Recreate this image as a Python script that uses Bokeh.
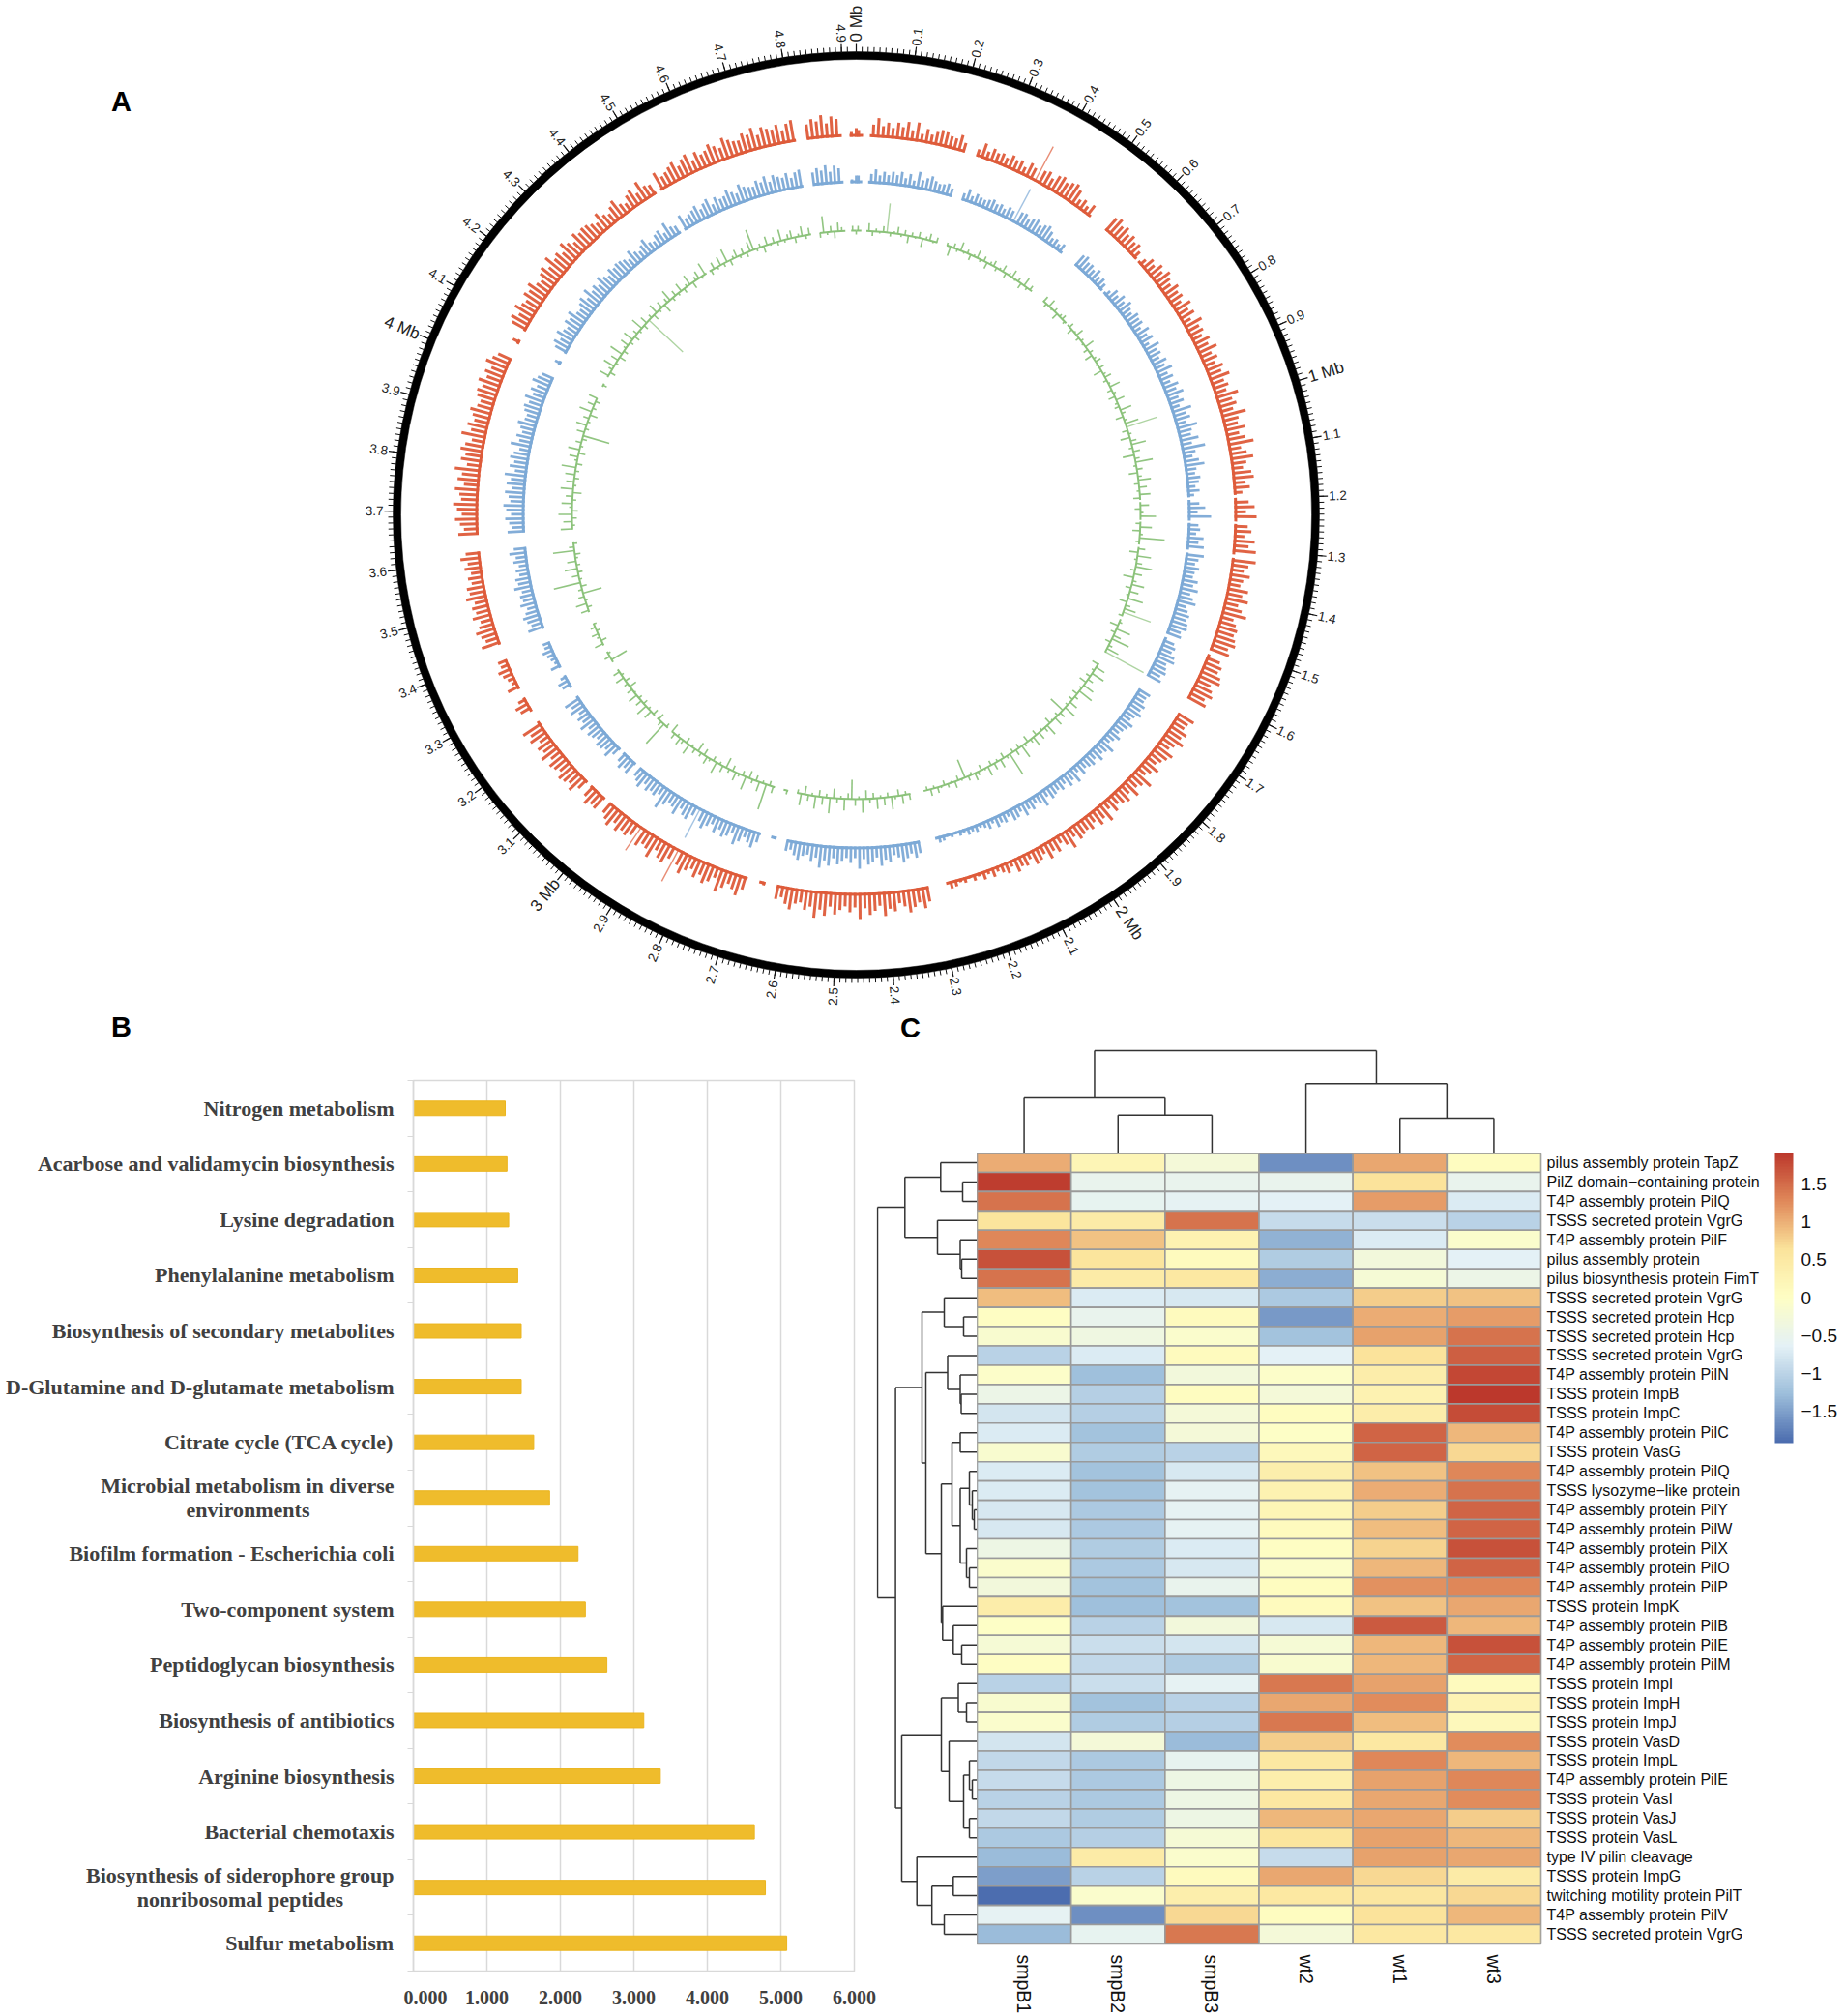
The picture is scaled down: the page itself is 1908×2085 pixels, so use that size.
import numpy as np
from bokeh.plotting import figure
from bokeh.layouts import row, column
from bokeh.models import (Range1d, FixedTicker, LinearColorMapper, ColorBar, ColumnDataSource,
                          NumeralTickFormatter)
from bokeh.core.properties import value
from bokeh.embed import file_html
from bokeh.resources import INLINE

# ---------- Panel A data ----------
GENOME_MB = 4.925
BIN_MB = 0.01
gaps_mb = [(4.895,4.911),(0.014,0.028),(0.227,0.254),(0.522,0.562),(0.651,0.657),(1.19,1.196),(1.245,1.25),
           (1.313,1.32),(1.517,1.526),(1.627,1.662),(2.275,2.312),(2.627,2.652),(2.665,2.69),(3.016,3.03),
           (3.07,3.08),(3.243,3.267),(3.30,3.32),(3.387,3.42),(3.618,3.653),(4.026,4.06),(4.07,4.09),
           (4.49,4.50),(4.80,4.824)]
tick_labels = {0:"0 Mb",10:"1 Mb",20:"2 Mb",30:"3 Mb",40:"4 Mb"}
red_track = [
 7,5,5,13,20,12,16,11,17,13,
 19,11,20,9,15,10,14,17,16,13,
 12,17,10,5,5,8,16,9,14,11,
 13,10,15,12,14,9,16,13,41,15,
 17,12,18,20,16,19,21,17,9,12,
 8,13,5,5,5,5,17,20,15,18,
 13,16,12,14,9,6,8,14,11,17,
 13,19,15,12,18,14,16,11,19,13,
 17,10,20,14,16,12,18,14,21,13,
 17,12,19,15,22,14,17,13,24,16,
 19,14,26,17,15,21,14,19,27,13,
 18,24,16,12,20,22,13,17,9,25,
 15,21,12,23,9,14,18,11,22,16,
 24,5,25,18,14,21,15,13,22,17,
 24,15,20,26,14,18,21,19,22,24,
 18,21,9,15,19,17,22,24,16,20,
 23,17,21,9,9,9,19,15,14,20,
 17,23,16,13,21,18,15,12,19,14,
 11,23,16,13,20,12,18,15,12,17,
 10,21,14,18,11,16,13,15,17,11,
 21,14,9,16,12,18,10,14,16,8,
 13,11,15,7,12,9,6,10,5,9,
 4,7,3,6,4,7,8,5,5,5,
 5,16,22,15,19,24,17,13,21,18,
 25,14,19,23,16,27,15,20,14,18,
 23,15,25,19,28,17,21,14,16,23,
 18,12,15,5,5,4,3,5,5,14,
 22,17,13,19,25,12,18,22,15,20,
 13,17,23,16,38,14,21,19,13,24,
 17,15,20,30,14,18,16,20,14,21,
 17,13,9,16,15,19,13,9,12,20,
 15,18,20,14,17,19,13,21,15,18,
 12,20,16,22,14,5,5,12,15,9,
 5,5,13,6,8,11,14,9,10,5,
 5,5,20,14,17,21,16,13,20,15,
 18,14,22,17,19,13,16,12,18,14,
 21,15,5,5,5,21,15,19,24,17,
 22,26,18,20,25,16,23,19,27,15,
 22,18,24,20,14,26,17,22,16,19,
 23,17,15,20,22,18,24,17,21,16,
 24,19,15,5,5,5,8,5,5,17,
 21,15,23,18,16,22,19,24,17,15,
 20,23,17,26,18,21,16,24,19,15,
 22,18,20,19,16,13,21,15,12,17,
 21,13,10,16,19,12,22,14,12,5,
 20,13,15,18,21,14,19,22,13,20,
 15,17,22,18,14,23,19,16,15,21,
 18,24,15,22,19,17,21,14,20,23,
 5,5,16,21,18,24,15,22,19,8,
 7,5,9]
blue_track = [
 8,6,5,10,15,9,13,10,14,11,
 15,9,14,8,18,10,13,16,12,10,
 11,13,9,5,5,8,14,8,12,10,
 9,11,13,10,12,9,13,11,39,14,
 15,11,14,16,12,15,17,13,8,10,
 7,10,5,5,5,5,14,16,12,13,
 10,14,9,11,8,5,7,13,10,15,
 11,16,12,10,15,13,14,9,16,11,
 15,8,17,12,14,10,16,12,18,11,
 15,10,17,13,19,12,16,10,21,14,
 17,11,22,15,13,20,12,25,14,10,
 16,21,12,10,15,13,9,13,7,20,
 12,18,10,24,8,11,13,9,17,12,
 18,5,19,14,11,16,12,11,17,13,
 19,12,16,20,11,14,17,15,18,19,
 14,16,8,12,15,13,18,20,13,15,
 17,13,16,8,8,8,14,12,12,16,
 14,18,13,11,17,14,12,10,15,11,
 9,18,13,11,16,10,14,12,10,14,
 8,17,11,15,9,13,10,12,14,9,
 17,11,8,13,10,15,8,12,13,7,
 11,9,12,6,10,7,5,8,6,8,
 4,6,3,5,3,6,7,4,4,4,
 4,13,17,12,16,20,14,11,18,15,
 21,12,16,19,13,23,12,17,12,15,
 19,13,21,16,24,14,18,12,14,19,
 15,10,12,4,4,3,2,4,4,11,
 18,14,10,16,21,10,15,18,12,17,
 10,14,19,13,35,11,18,16,11,20,
 14,12,17,24,11,15,13,16,11,18,
 14,11,8,15,12,16,11,8,10,17,
 12,15,16,11,14,16,11,18,12,15,
 10,17,13,18,12,4,4,10,12,7,
 4,4,11,5,7,9,12,8,8,4,
 4,4,17,12,15,18,14,11,17,13,
 15,12,19,14,16,11,14,10,15,12,
 18,13,4,4,4,18,13,16,20,14,
 19,22,15,17,21,14,20,16,23,13,
 19,15,20,17,12,22,14,18,13,16,
 20,14,13,17,19,15,21,14,18,13,
 20,16,13,4,4,4,7,4,4,14,
 18,13,20,15,13,19,16,21,14,13,
 17,20,14,22,15,18,14,20,16,13,
 18,15,17,16,14,11,18,13,10,14,
 18,11,9,14,16,10,19,12,10,4,
 17,11,13,15,18,12,16,19,11,17,
 13,14,19,15,12,20,16,14,13,18,
 15,20,13,19,16,14,18,12,17,19,
 4,4,14,18,15,20,13,19,16,6,
 6,4,8]
green_track = [
 5,-3,3,8,-5,3,-2,6,30,-4,
 2,7,-3,5,-8,4,-2,6,-9,3,
 7,-2,5,3,3,3,-10,5,-3,9,
 -2,4,-6,2,8,-3,5,-7,3,6,
 -4,2,7,-5,3,8,-2,4,-6,9,
 -3,5,2,2,2,2,6,-4,8,-2,
 4,-7,3,5,-3,2,5,-6,2,8,
 -4,3,-2,10,-5,4,-8,3,6,-2,
 5,-9,3,7,-4,2,11,-5,3,-7,
 9,-3,-5,12,4,-8,3,14,33,-6,
 3,-10,6,15,-4,7,-12,5,18,-3,
 6,-9,4,13,-5,8,-3,11,-7,4,
 9,-6,3,16,4,-5,12,-8,3,26,
 -4,4,7,-9,14,-3,6,17,-5,8,
 -11,4,13,-6,9,-3,16,-8,5,12,
 30,-4,7,3,-9,15,-5,8,19,-6,
 4,13,45,3,3,3,-7,10,-3,14,
 -5,6,-8,12,-3,16,-6,4,-5,9,
 -3,13,-17,6,-4,9,-2,-7,12,5,
 -3,8,-6,11,4,-7,3,14,-5,6,
 -4,25,3,-6,9,-3,7,-5,10,2,
 -6,4,8,-3,5,-20,2,-5,7,-2,
 4,-5,2,6,-3,7,-4,5,3,3,
 3,6,-4,9,-7,3,13,-5,8,-3,
 11,-6,4,-9,14,-3,7,-20,-6,12,
 -3,5,-10,16,-4,8,-7,13,-3,6,
 -9,12,-4,3,3,4,3,3,3,7,
 -5,27,-3,10,-6,4,-8,14,-5,3,
 9,-6,4,-11,7,-3,12,-5,3,8,
 -7,4,-10,5,-3,11,-6,4,8,-3,
 6,-9,3,-4,27,5,-7,3,-6,9,
 -3,12,-5,7,-4,10,-2,6,-8,4,
 -5,9,-3,7,-4,3,3,-18,6,-3,
 3,3,9,-6,3,7,-4,5,-3,3,
 3,3,8,-5,11,-3,6,-20,4,-6,
 28,-3,7,-5,13,-4,9,-3,-6,22,
 5,-4,3,3,3,12,-3,9,-5,14,
 -6,3,11,-4,7,-9,13,-3,8,-5,
 10,-4,15,-6,3,9,-7,12,-3,6,
 -5,-28,8,-4,11,-3,6,-8,13,-4,
 7,-5,9,3,3,3,-4,3,3,10,
 -6,4,12,-3,8,-7,14,-5,3,9,
 -4,11,-6,5,-3,13,-5,8,-48,4,
 -6,10,-3,7,-9,5,12,-4,6,-3,
 9,-5,3,11,-7,4,8,-3,13,3,
 -5,7,-3,9,-4,14,-6,3,8,-3,
 6,-5,10,22,-3,4,-7,9,-2,6,
 -4,12,-3,5,8,-6,3,10,-4,7,
 3,3,-5,17,-3,6,-7,9,4,-3,
 3,5,-4]

# ---------- Panel B data ----------
pathways = ["Nitrogen metabolism","Acarbose and validamycin biosynthesis","Lysine degradation","Phenylalanine metabolism",
            "Biosynthesis of secondary metabolites","D-Glutamine and D-glutamate metabolism","Citrate cycle (TCA cycle)",
            "Microbial metabolism in diverse|environments","Biofilm formation - Escherichia coli","Two-component system",
            "Peptidoglycan biosynthesis","Biosynthesis of antibiotics","Arginine biosynthesis","Bacterial chemotaxis",
            "Biosynthesis of siderophore group|nonribosomal peptides","Sulfur metabolism"]
enrichment = [1.25,1.274,1.297,1.42,1.467,1.467,1.637,1.853,2.24,2.34,2.633,3.135,3.36,4.64,4.79,5.08]

# ---------- Panel C data ----------
samples = ["smpB1","smpB2","smpB3","wt2","wt1","wt3"]
genes = ["pilus assembly protein TapZ","PilZ domain\u2212containing protein","T4P assembly protein PilQ","TSSS secreted protein VgrG",
 "T4P assembly protein PilF","pilus assembly protein","pilus biosynthesis protein FimT","TSSS secreted protein VgrG",
 "TSSS secreted protein Hcp","TSSS secreted protein Hcp","TSSS secreted protein VgrG","T4P assembly protein PilN",
 "TSSS protein ImpB","TSSS protein ImpC","T4P assembly protein PilC","TSSS protein VasG","T4P assembly protein PilQ",
 "TSSS lysozyme\u2212like protein","T4P  assembly protein PilY","T4P assembly protein PilW","T4P assembly protein PilX",
 "T4P assembly protein PilO","T4P assembly protein PilP","TSSS protein ImpK","T4P assembly protein PilB","T4P assembly protein PilE",
 "T4P assembly protein PilM","TSSS protein ImpI","TSSS protein ImpH","TSSS protein ImpJ","TSSS protein VasD","TSSS protein ImpL",
 "T4P  assembly protein PilE","TSSS protein VasI","TSSS protein VasJ","TSSS protein VasL","type IV pilin cleavage","TSSS protein ImpG",
 "twitching motility protein PilT","T4P  assembly protein PilV","TSSS secreted protein VgrG"]
expr = [
 [1.0,0.2,-0.25,-1.65,1.05,0.05],[1.85,-0.5,-0.5,-0.5,0.65,-0.5],[1.45,-0.55,-0.6,-0.65,1.15,-0.7],[0.6,0.45,1.45,-0.9,-0.85,-1.0],
 [1.3,0.85,0.3,-1.35,-0.7,-0.1],[1.7,0.6,0.1,-1.1,-0.3,-0.65],[1.45,0.45,0.5,-1.4,-0.2,-0.45],[0.9,-0.7,-0.75,-1.15,0.8,0.85],
 [0.02,-0.5,0.1,-1.55,1.0,1.15],[-0.15,-0.35,-0.1,-1.2,1.1,1.45],[-1.0,-0.7,0.1,-0.65,0.65,1.6],[-0.05,-1.25,-0.3,-0.05,0.4,1.78],
 [-0.45,-1.05,0.05,-0.25,0.3,1.9],[-0.8,-1.05,-0.25,0.05,0.42,1.75],[-0.7,-1.2,-0.25,-0.02,1.55,0.95],[-0.15,-1.1,-1.0,0.15,1.55,0.7],
 [-0.7,-1.2,-0.75,0.35,0.85,1.3],[-0.7,-1.22,-0.6,0.3,1.0,1.45],[-0.75,-1.15,-0.6,0.2,0.8,1.55],[-0.75,-1.12,-0.6,0.1,0.9,1.55],
 [-0.4,-1.1,-0.7,0.0,0.75,1.7],[-0.1,-1.15,-0.75,-0.05,0.95,1.55],[-0.3,-1.22,-0.5,0.05,1.2,1.3],[0.4,-1.25,-1.22,0.1,0.85,1.05],
 [-0.02,-1.0,-0.3,-0.75,1.62,0.95],[-0.2,-0.85,-0.8,-0.2,0.95,1.72],[0.03,-0.95,-1.1,-0.15,0.95,1.55],[-1.0,-0.85,-0.6,1.4,1.1,0.1],
 [-0.15,-1.22,-1.0,1.05,1.25,0.25],[-0.1,-1.1,-1.05,1.4,0.9,0.15],[-0.8,-0.25,-1.3,0.8,0.5,1.25],[-0.95,-1.12,-0.55,0.5,1.3,0.95],
 [-0.9,-1.15,-0.4,0.35,1.1,1.3],[-1.0,-1.12,-0.4,0.5,1.05,1.25],[-0.95,-1.1,-0.4,0.95,1.05,0.8],[-1.15,-1.05,-0.2,0.6,1.1,0.95],
 [-1.3,0.45,-0.1,-0.9,1.1,1.05],[-1.5,-1.0,0.1,1.05,0.7,0.45],[-1.9,-0.1,0.35,0.5,0.55,0.7],[-0.6,-1.65,0.7,0.05,0.65,0.95],
 [-1.3,-0.55,1.4,-0.25,0.5,0.5]]
col_tree = (106,(57,0,(39.3,1,2)),(71.7,3,(36,4,5)))
_a = (74.7,(37.7,0,(15,1,2)),(41,3,(17.5,4,(16,5,6))))
_g8 = (34,7,(14,8,9))
_g11 = (30.5,10,(17.5,11,(16.5,12,13)))
_g15 = (26,(17.5,14,15),(17.5,(8,16,(5,17,(3,18,19))),(11,20,(8,21,22))))
_g24 = (35.7,23,(24.7,24,(16,25,26)))
_s = (57,_g8,(53,_g11,(37,_g15,_g24)))
_t1 = (37,(19.5,27,(11,28,29)),(29,30,(14,(8,31,(5,32,33)),(8,34,35))))
_t2 = (62.3,36,(46.8,(24.7,37,38),(34,39,40)))
row_tree = (103,_a,(84.4,_s,(78,_t1,_t2)))
cbar_ticks = {-1.5:"\u22121.5",-1:"\u22121",-0.5:"\u22120.5",0:"0",0.5:"0.5",1:"1",1.5:"1.5"}

# ---------- styles ----------
SANS = "Liberation Sans"
SERIF = "Liberation Serif"
RED, BLUE, GREEN = "#DE5B3A", "#7CA9D6", "#8BC27A"

def bare(p):
    p.toolbar.logo = None
    p.background_fill_color = None
    p.border_fill_color = None
    p.outline_line_color = None
    p.xgrid.visible = False
    p.ygrid.visible = False
    return p

# ---------- Panel A ----------
W_A, H_A = 1908, 1044
pa = bare(figure(width=W_A, height=H_A, x_range=Range1d(-885, 1023), y_range=Range1d(-512, 532),
                 output_backend="svg", toolbar_location=None, x_axis_location=None, y_axis_location=None,
                 min_border=0, min_border_left=0, min_border_right=0, min_border_top=0, min_border_bottom=0))

def polar(mb, r):
    th = np.asarray(mb) / GENOME_MB * 2 * np.pi
    return np.asarray(r) * np.sin(th), np.asarray(r) * np.cos(th)

pa.annulus(x=[0], y=[0], inner_radius=471, outer_radius=479, fill_color="black", line_color="black", line_width=0.5)
minor = np.arange(0, int(round(GENOME_MB / BIN_MB))) * BIN_MB
x0, y0 = polar(minor, np.full(minor.size, 478))
x1, y1 = polar(minor, np.full(minor.size, 484))
pa.segment(x0, y0, x1, y1, line_color="#111111", line_width=1)
major_i = np.arange(0, 50)
major = major_i * 0.1
x0, y0 = polar(major, np.full(major.size, 478))
x1, y1 = polar(major, np.full(major.size, 488))
pa.segment(x0, y0, x1, y1, line_color="#111111", line_width=1.2)
th_deg = major / GENOME_MB * 360
lx, ly = polar(major, np.full(major.size, 489))
for big, size in ((False, "13.5px"), (True, "17px")):
    for side, align in ((True, "left"), (False, "right")):
        m = np.array([(i % 10 == 0) == big and (th_deg[i] < 180) == side for i in major_i])
        if not m.any():
            continue
        ang = np.deg2rad((90 - th_deg[m]) if side else (270 - th_deg[m]))
        txt = [tick_labels.get(int(i), f"{major[i]:.1f}") for i in major_i[m]]
        pa.text(lx[m], ly[m], text=txt, angle=ang, text_align=align, text_baseline="middle",
                text_font=value(SANS), text_font_size=size, text_color="#222222")

centers = (np.arange(len(red_track)) + 0.5) * BIN_MB
def visible(mb):
    return np.array([not any(a <= v <= b for a, b in gaps_mb) for v in mb])

contigs = []
pos = 0.0
for a, b in sorted(gaps_mb):
    contigs.append((pos, a))
    pos = b
contigs.append((pos, GENOME_MB))

def track(vals, r0, color, lw, r_in, r_out):
    v = np.asarray(vals, float)
    m = visible(centers)
    xa, ya = polar(centers[m], np.full(m.sum(), r0))
    xb, yb = polar(centers[m], r0 + v[m])
    tall = np.abs(v[m]) > 29
    widths = np.where(tall, 1.4, lw)
    pa.segment(xa, ya, xb, yb, line_color=color, line_width=widths, line_alpha=np.where(tall, 0.7, 0.95))
    st = np.array([np.pi/2 - c[1]/GENOME_MB*2*np.pi for c in contigs])
    en = np.array([np.pi/2 - c[0]/GENOME_MB*2*np.pi for c in contigs])
    pa.annular_wedge(x=np.zeros(len(contigs)), y=np.zeros(len(contigs)), inner_radius=r_in, outer_radius=r_out,
                     start_angle=st, end_angle=en, direction="anticlock", fill_color=color, line_color=None)

track(red_track, 391, RED, 3.0, 391, 394)
track(blue_track, 343, BLUE, 2.7, 343, 346)
track(green_track, 294, GREEN, 1.6, 293, 295)

pa.text([125 - 885], [532 - 104], text=["A"], text_align="center", text_baseline="middle",
        text_font=value(SANS), text_font_style="bold", text_font_size="29px", text_color="black")

# ---------- Panel B ----------
H_B = 1041
PB_TOP, PB_BOTTOM = 73, 47
PB_LEFT, PB_FRAME, PB_RIGHT = 10, 456, 23
n_p = len(pathways)
pb = figure(width=PB_LEFT + PB_FRAME + PB_RIGHT, height=H_B, x_range=Range1d(0, 6), y_range=Range1d(n_p, 0), output_backend="svg",
            toolbar_location=None, min_border_left=PB_LEFT, min_border_right=PB_RIGHT, min_border_top=PB_TOP, min_border_bottom=PB_BOTTOM,
            frame_align=False)
pb.toolbar.logo = None
pb.background_fill_color = None
pb.border_fill_color = None
pb.outline_line_color = "#d9d9d9"
pb.outline_line_width = 1.5
pb.ygrid.visible = False
pb.xgrid.grid_line_color = "#d9d9d9"
pb.xgrid.grid_line_width = 1.5
pb.xgrid.ticker = FixedTicker(ticks=list(range(7)))
pb.xaxis.ticker = FixedTicker(ticks=list(range(7)))
pb.xaxis.formatter = NumeralTickFormatter(format="0.000")
pb.xaxis.axis_line_color = "#d9d9d9"
pb.xaxis.major_tick_line_color = None
pb.xaxis.minor_tick_line_color = None
pb.xaxis.major_label_standoff = 14
pb.xaxis.major_label_text_font = SERIF
pb.xaxis.major_label_text_font_style = "bold"
pb.xaxis.major_label_text_font_size = "20px"
pb.xaxis.major_label_text_color = "#404040"
pb.yaxis.ticker = FixedTicker(ticks=list(range(n_p + 1)))
pb.yaxis.axis_line_color = "#d9d9d9"
pb.yaxis.axis_line_width = 1.5
pb.yaxis.major_tick_line_color = "#d9d9d9"
pb.yaxis.major_tick_out = 6
pb.yaxis.major_tick_in = 0
pb.yaxis.minor_tick_line_color = None
pb.yaxis.major_label_standoff = 0
pb.yaxis.major_label_text_font_size = "0px"
pb.yaxis.major_label_text_color = None

y_c = np.arange(n_p) + 0.5
pb.hbar(y=y_c, left=0, right=enrichment, height=0.26, fill_color="#EFBC2C", line_color="#EBB51F", line_width=1)

# label strip at the left of panel B, sharing its vertical scale
LW = 417
unit_y = (H_B - PB_TOP - PB_BOTTOM) / n_p
pn = bare(figure(width=LW, height=H_B, x_range=Range1d(0, LW),
                 y_range=Range1d(n_p + PB_BOTTOM / unit_y, -PB_TOP / unit_y), output_backend="svg",
                 toolbar_location=None, x_axis_location=None, y_axis_location=None, frame_align=False,
                 min_border_left=0, min_border_right=0, min_border_top=0, min_border_bottom=0))
tx, ty, tt, ta = [], [], [], []
for p_, y_ in zip(pathways, y_c):
    if "|" in p_:
        l1, l2 = p_.split("|")
        tx += [407, 256 if l1.startswith("Microbial") else 248]
        ty += [y_ - 0.22, y_ + 0.22]
        tt += [l1, l2]
        ta += ["right", "center"]
    else:
        tx.append(407); ty.append(y_); tt.append(p_); ta.append("right")
pn.text(x="x", y="y", text="t", text_align="a", text_baseline="middle",
        source=ColumnDataSource(dict(x=tx, y=ty, t=tt, a=ta)), text_font=value(SERIF), text_font_style="bold",
        text_font_size="22px", text_color="#404040")
pn.text([125], [-0.97], text=["B"], text_align="center", text_baseline="middle",
        text_font=value(SANS), text_font_style="bold", text_font_size="29px", text_color="black")

# ---------- Panel C ----------
anchors = ["#4C6DAF","#9DBEDB","#E4F1F6","#FEFEC4","#FBE39B","#E0895A","#BC382C"]
rgb = np.array([[int(c[i:i+2],16) for i in (1,3,5)] for c in anchors], float)
t = np.linspace(0, 6, 100)
palette = ["#%02x%02x%02x" % tuple(int(round(np.interp(v, range(7), rgb[:,k]))) for k in range(3)) for v in t]
mapper = LinearColorMapper(palette=palette, low=-1.92, high=1.92)

def tree_segments(node, out):
    if isinstance(node, int):
        return node + 0.5, 0.0
    h, a, b = node
    pa_, ha = tree_segments(a, out)
    pb_, hb = tree_segments(b, out)
    out.append((pa_, ha, pa_, h))
    out.append((pb_, hb, pb_, h))
    out.append((pa_, h, pb_, h))
    return (pa_ + pb_) / 2, h

n_c, n_r = len(samples), len(genes)
FRAME_W, FRAME_H = 583, 819
DW, TH, BB, RB = 104, 148, 74, 315

ph = bare(figure(width=FRAME_W + RB, height=FRAME_H + BB, x_range=Range1d(0, n_c), y_range=Range1d(n_r, 0),
                 output_backend="svg", toolbar_location=None, y_axis_location="right",
                 min_border_left=0, min_border_right=RB, min_border_top=0, min_border_bottom=BB))
cx = [j + 0.5 for i in range(n_r) for j in range(n_c)]
cy = [i + 0.5 for i in range(n_r) for j in range(n_c)]
cv = [expr[i][j] for i in range(n_r) for j in range(n_c)]
ph.rect(x="x", y="y", width=1, height=1, source=ColumnDataSource(dict(x=cx, y=cy, v=cv)),
        fill_color={"field":"v","transform":mapper}, line_color="#9a9a9a", line_width=1.6)
ph.outline_line_color = "#9a9a9a"
ph.outline_line_width = 1.6
ph.xaxis.ticker = FixedTicker(ticks=[j + 0.5 for j in range(n_c)])
ph.xaxis.major_label_overrides = {j + 0.5: s for j, s in enumerate(samples)}
ph.xaxis.major_label_orientation = -np.pi / 2
ph.xaxis.major_label_text_font = SANS
ph.xaxis.major_label_text_font_size = "19.5px"
ph.xaxis.major_label_text_color = "#111111"
ph.xaxis.major_label_standoff = 5
ph.yaxis.ticker = FixedTicker(ticks=[i + 0.5 for i in range(n_r)])
ph.yaxis.major_label_overrides = {i + 0.5: s for i, s in enumerate(genes)}
ph.yaxis.major_label_text_font = SANS
ph.yaxis.major_label_text_font_size = "16px"
ph.yaxis.major_label_text_color = "#111111"
ph.yaxis.major_label_standoff = 0
for ax in (ph.xaxis, ph.yaxis):
    ax.axis_line_color = None
    ax.major_tick_line_color = None
    ax.minor_tick_line_color = None

cb = ColorBar(color_mapper=mapper, location=(825, 518), width=19, height=301, padding=0, margin=0,
              ticker=FixedTicker(ticks=list(cbar_ticks)), major_label_overrides=cbar_ticks,
              major_label_text_font=SANS, major_label_text_font_size="19px", major_label_text_color="#111111",
              major_tick_line_color=None, minor_tick_line_color=None, bar_line_color=None, label_standoff=8,
              background_fill_color=None, border_line_color=None)
ph.add_layout(cb)

seg = []
tree_segments(col_tree, seg)
seg = np.array(seg)
pt = bare(figure(width=DW + FRAME_W, height=TH, x_range=Range1d(-DW / (FRAME_W / n_c), n_c), y_range=Range1d(0, TH),
                 output_backend="svg", toolbar_location=None, x_axis_location=None, y_axis_location=None,
                 min_border_left=0, min_border_right=0, min_border_top=0, min_border_bottom=0))
pt.segment(seg[:,0], seg[:,1], seg[:,2], seg[:,3], line_color="#333333", line_width=1.5)
unit = FRAME_W / n_c
pt.text([(941 - 1010) / unit], [1192 - 1062], text=["C"], text_align="center", text_baseline="middle",
        text_font=value(SANS), text_font_style="bold", text_font_size="29px", text_color="black")

seg = []
tree_segments(row_tree, seg)
seg = np.array(seg)
pl = bare(figure(width=DW, height=FRAME_H + BB, x_range=Range1d(DW, 0), y_range=Range1d(n_r, 0),
                 output_backend="svg", toolbar_location=None, x_axis_location=None, y_axis_location=None,
                 min_border_left=0, min_border_right=0, min_border_top=0, min_border_bottom=BB))
pl.segment(seg[:,1], seg[:,0], seg[:,3], seg[:,2], line_color="#333333", line_width=1.5)

right_col = column(pt, row(pl, ph, spacing=0), spacing=0)
page = column(pa, row(pn, pb, right_col, spacing=0), spacing=0)
open("out.html", "w").write(file_html(page, INLINE))
